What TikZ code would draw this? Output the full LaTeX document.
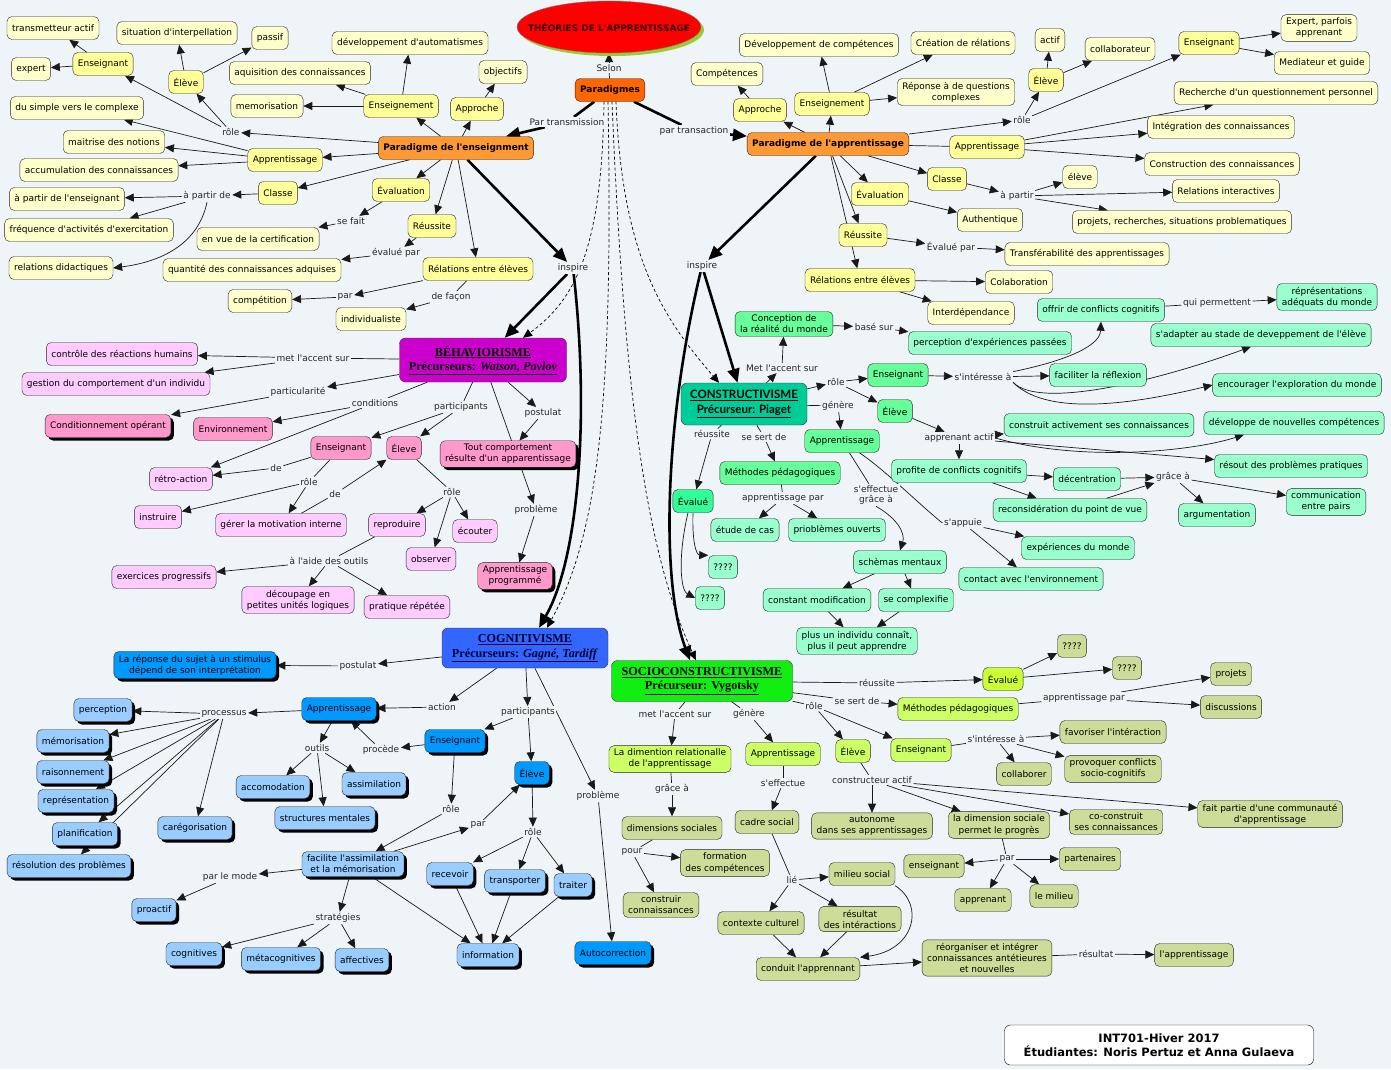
\documentclass[tikz,border=0pt]{standalone}
\usepackage{fontspec}
\setmainfont{DejaVu Sans}[Ligatures=TeXOff]
\newfontfamily\serifttl{Liberation Serif}
\newfontfamily\sansttl{Lato}
\usetikzlibrary{arrows.meta,shapes.geometric,shadows}

\definecolor{bgcol}{HTML}{EEF4F7}
\definecolor{yelmid}{HTML}{FFFF99}
\definecolor{yelpale}{HTML}{FFFFCC}
\definecolor{orng}{HTML}{FF9933}
\definecolor{orngd}{HTML}{FF6600}
\definecolor{shgreen}{HTML}{99CC33}
\definecolor{titred}{HTML}{330000}
\definecolor{purp}{HTML}{CC00CC}
\definecolor{pinkmid}{HTML}{FF99CC}
\definecolor{pinkpale}{HTML}{FFCCFF}
\definecolor{bluet}{HTML}{3366FF}
\definecolor{bluemid}{HTML}{0099FF}
\definecolor{bluepale}{HTML}{99CCFF}
\definecolor{navy}{HTML}{000033}
\definecolor{tealt}{HTML}{00CC99}
\definecolor{greenmid}{HTML}{66FF99}
\definecolor{greenpale}{HTML}{99FFCC}
\definecolor{greenev}{HTML}{33FF99}
\definecolor{socg}{HTML}{11EE11}
\definecolor{limemid}{HTML}{CCFF66}
\definecolor{limebr}{HTML}{CCFF33}
\definecolor{olivec}{HTML}{CCDD99}

\pgfdeclarelayer{bg}
\pgfdeclarelayer{edges}
\pgfsetlayers{bg,edges,main}

\tikzset{
  cbox/.style={draw=black!85, rounded corners=5pt, inner xsep=5pt, inner ysep=3.5pt,
    minimum height=23pt, align=center, text=black, font=\fontsize{9}{11}\selectfont},
  palebox/.style={cbox, fill=yelpale},
  yelbox/.style={cbox, fill=yelmid},
  orngbox/.style={cbox, fill=orng, font=\fontsize{9}{11}\selectfont\bfseries},
  parbox/.style={cbox, fill=orngd, font=\fontsize{9}{11}\selectfont\bfseries},
  pinkm/.style={cbox, fill=pinkmid},
  pinkp/.style={cbox, fill=pinkpale},
  bluem/.style={cbox, fill=bluemid},
  bluep/.style={cbox, fill=bluepale},
  greenm/.style={cbox, fill=greenmid},
  greenp/.style={cbox, fill=greenpale},
  greene/.style={cbox, fill=greenev},
  limem/.style={cbox, fill=limemid},
  limeb/.style={cbox, fill=limebr},
  olivebox/.style={cbox, fill=olivec},
  shd/.style={drop shadow={shadow xshift=3pt, shadow yshift=-3pt, opacity=1, fill=black}},
  ttlbehav/.style={draw=black!80, fill=purp, rounded corners=6pt, align=center,
    minimum width=167pt, minimum height=44pt, text=black, inner xsep=5pt,
    font=\serifttl\bfseries\fontsize{12.2}{14.5}\selectfont},
  ttlcogn/.style={ttlbehav, fill=bluet, text=navy, minimum width=166pt, minimum height=40pt},
  ttlconstr/.style={ttlbehav, fill=tealt, minimum width=126pt, minimum height=42pt,
    font=\sansttl\bfseries\fontsize{11.5}{14.5}\selectfont},
  ttlsocio/.style={ttlbehav, fill=socg, minimum width=181pt, minimum height=41pt},
  theo/.style={ellipse, draw=black!50, fill=red, minimum width=184pt, minimum height=52pt,
    drop shadow={shadow xshift=3pt, shadow yshift=-3pt, opacity=1, fill=shgreen}},
  lk/.style={fill=bgcol, inner sep=1.5pt, align=center, text=black!85,
    font=\fontsize{9}{10.5}\selectfont},
  ln/.style={draw=black!90, line width=0.7pt},
  ar/.style={ln, -{Triangle[length=9pt,width=8pt]}},
  thk/.style={draw=black, line width=2.6pt},
  thkar/.style={thk, -{Triangle[length=14pt,width=12pt]}},
  dsh/.style={draw=black, line width=0.7pt, dash pattern=on 3pt off 2.5pt,
    -{Triangle[length=9pt,width=8pt]}},
  foot/.style={draw=black, fill=white, rounded corners=6pt, align=center,
    minimum width=309pt, minimum height=40pt, font=\fontsize{11.5}{14}\selectfont\bfseries}
}

\begin{document}
\begin{tikzpicture}[x=1pt, y=-1pt]

\begin{pgfonlayer}{bg}
  \fill[bgcol] (0,0) rectangle (1391,1069);
\end{pgfonlayer}
\useasboundingbox (0,0) rectangle (1391,1069);

\node[theo] (theo) at (609,27) {};
\node[font=\fontsize{9}{11}\selectfont\bfseries, text=titred] (theotxt) at (theo) {THÉORIES DE L'APPRENTISSAGE};
\node[parbox] (parad) at (610,90) {Paradigmes};
\node[lk] (l_selon) at (609,68) {Selon};
\node[lk] (l_transm) at (567,122) {Par transmission};
\node[lk] (l_transa) at (694,131) {par transaction};
\node[lk] (l_insp1) at (573,268) {inspire};
\node[lk] (l_insp2) at (702,266) {inspire};

\node[palebox] (trans) at (53,28) {transmetteur actif};
\node[palebox] (expert) at (31,69) {expert};
\node[yelbox] (ens_l) at (103,64) {Enseignant};
\node[palebox] (sit) at (177,33) {situation d'interpellation};
\node[palebox] (passif) at (270,38) {passif};
\node[yelbox] (el_l) at (186,82) {Élève};
\node[palebox] (devauto) at (410,43) {développement d'automatismes};
\node[palebox] (aquis) at (300,73) {aquisition des connaissances};
\node[palebox] (memo) at (267,106) {memorisation};
\node[yelbox] (ensgt_l) at (401,106) {Enseignement};
\node[palebox] (obj) at (503,72) {objectifs};
\node[yelbox] (appr_l) at (477,109) {Approche};
\node[palebox] (simple) at (77,108) {du simple vers le complexe};
\node[palebox] (maitr) at (114,142) {maitrise des notions};
\node[palebox] (accum) at (99,170) {accumulation des connaissances};
\node[yelbox] (app_l) at (285,160) {Apprentissage};
\node[orngbox] (pens) at (456,148) {Paradigme de l'enseignment};
\node[yelbox] (classe_l) at (278,193) {Classe};
\node[palebox] (apens) at (67,199) {à partir de l'enseignant};
\node[palebox] (freq) at (89,230) {fréquence d'activités d'exercitation};
\node[palebox] (reldid) at (61,268) {relations didactiques};
\node[yelbox] (eval_l) at (401,190) {Évaluation};
\node[palebox] (certif) at (258,239) {en vue de la certification};
\node[yelbox] (reuss_l) at (432,226) {Réussite};
\node[palebox] (quant) at (252,270) {quantité des connaissances adquises};
\node[yelbox] (rel_l) at (478,269) {Rélations entre élèves};
\node[palebox] (compet) at (260,301) {compétition};
\node[palebox] (indiv) at (371,319) {individualiste};
\node[lk] (l_role1) at (231,132) {rôle};
\node[lk] (l_apartir1) at (207,196) {à partir de};
\node[lk] (l_sefait) at (351,221) {se fait};
\node[lk] (l_evalpar1) at (396,253) {évalué par};
\node[lk] (l_par1) at (345,297) {par};
\node[lk] (l_defacon) at (451,297) {de façon};

\node[palebox] (devcomp) at (819,45) {Développement de compétences};
\node[palebox] (creat) at (963,43) {Création de rélations};
\node[palebox] (repq) at (956,92) {Réponse à de questions\\complexes};
\node[palebox] (compet_r) at (727,74) {Compétences};
\node[yelbox] (appr_r) at (760,110) {Approche};
\node[yelbox] (ensgt_r) at (832,104) {Enseignement};
\node[palebox] (actif) at (1050,40) {actif};
\node[yelbox] (el_r) at (1046,80) {Élève};
\node[palebox] (collab) at (1120,49) {collaborateur};
\node[yelbox] (ens_r) at (1209,43) {Enseignant};
\node[palebox] (expertp) at (1319,28) {Expert, parfois\\apprenant};
\node[palebox] (mediat) at (1322,63) {Mediateur et guide};
\node[palebox] (recher) at (1276,93) {Recherche d'un questionnement personnel};
\node[palebox] (integ) at (1221,127) {Intégration des connaissances};
\node[palebox] (constrc) at (1222,164) {Construction des connaissances};
\node[orngbox] (papp) at (828,144) {Paradigme de l'apprentissage};
\node[yelbox] (app_r) at (987,147) {Apprentissage};
\node[yelbox] (classe_r) at (947,179) {Classe};
\node[palebox] (eleve_r) at (1080,177) {élève};
\node[palebox] (relint) at (1226,191) {Relations interactives};
\node[palebox] (projr) at (1182,222) {projets, recherches, situations problematiques};
\node[yelbox] (eval_r) at (880,194) {Évaluation};
\node[palebox] (authen) at (990,220) {Authentique};
\node[yelbox] (reuss_r) at (863,235) {Réussite};
\node[palebox] (transf) at (1087,254) {Transférabilité des apprentissages};
\node[yelbox] (rel_r) at (860,280) {Rélations entre élèves};
\node[palebox] (colab) at (1019,282) {Colaboration};
\node[palebox] (interd) at (971,313) {Interdépendance};
\node[lk] (l_role2) at (1022,120) {rôle};
\node[lk] (l_apartir2) at (1017,196) {à partir};
\node[lk] (l_evalpar2) at (951,247) {Évalué par};

\node[ttlbehav] (behav) at (483,360) {\underline{BÉHAVIORISME}\\\underline{Précurseurs: \textit{Watson, Pavlov}}};
\node[pinkp] (contr) at (122,354) {contrôle des réactions humains};
\node[pinkp] (gest) at (116,384) {gestion du comportement d'un individu};
\node[pinkm,shd] (condop) at (108,426) {Conditionnement opérant};
\node[pinkm] (envir) at (233,429) {Environnement};
\node[pinkp] (retro) at (181,479) {rétro-action};
\node[pinkm] (ens_b) at (341,448) {Enseignant};
\node[pinkm] (el_b) at (404,448) {Éleve};
\node[pinkp] (instr) at (158,517) {instruire};
\node[pinkp] (gerer) at (281,525) {gérer la motivation interne};
\node[pinkp] (reprod) at (397,525) {reproduire};
\node[pinkp] (ecout) at (475,531) {écouter};
\node[pinkp] (observ) at (431,559) {observer};
\node[pinkp] (exerc) at (164,577) {exercices progressifs};
\node[pinkp] (decoup) at (298,600) {découpage en\\petites unités logiques};
\node[pinkp] (prat) at (407,607) {pratique répétée};
\node[pinkm,shd] (toutc) at (508,454) {Tout comportement\\résulte d'un apparentissage};
\node[pinkm,shd] (appprog) at (515,576) {Apprentissage\\programmé};
\node[lk] (l_metac1) at (313,358) {met l'accent sur};
\node[lk] (l_partic) at (298,392) {particularité};
\node[lk] (l_cond) at (375,403) {conditions};
\node[lk] (l_partp1) at (461,407) {participants};
\node[lk] (l_de1) at (276,468) {de};
\node[lk] (l_role3) at (309,482) {rôle};
\node[lk] (l_de2) at (335,494) {de};
\node[lk] (l_role4) at (452,492) {rôle};
\node[lk] (l_aide) at (329,561) {à l'aide des outils};
\node[lk] (l_postul1) at (543,413) {postulat};
\node[lk] (l_probl1) at (536,510) {problème};

\node[ttlcogn] (cogn) at (525,648) {\underline{COGNITIVISME}\\\underline{Précurseurs: \textit{Gagné, Tardiff}}};
\node[bluem,shd] (repc) at (195,665) {La réponse du sujet à un stimulus\\dépend de son interprétation};
\node[bluem,shd] (app_c) at (339,709) {Apprentissage};
\node[bluep,shd] (percep) at (103,710) {perception};
\node[bluep,shd] (memc) at (73,741) {mémorisation};
\node[bluep,shd] (raison) at (73,772) {raisonnement};
\node[bluep,shd] (repres) at (76,801) {représentation};
\node[bluep,shd] (planif) at (85,834) {planification};
\node[bluep,shd] (resol) at (69,866) {résolution des problèmes};
\node[bluep,shd] (categ) at (195,828) {carégorisation};
\node[bluep,shd] (accom) at (273,787) {accomodation};
\node[bluep,shd] (assim) at (374,784) {assimilation};
\node[bluep,shd] (struct) at (325,818) {structures mentales};
\node[bluem,shd] (ens_c) at (455,741) {Enseignant};
\node[bluem,shd] (el_c) at (532,773) {Élève};
\node[bluep,shd] (facil) at (353,864) {facilite l'assimilation\\et la mémorisation};
\node[bluep,shd] (recev) at (450,874) {recevoir};
\node[bluep,shd] (transp) at (515,881) {transporter};
\node[bluep,shd] (trait) at (573,885) {traiter};
\node[bluep,shd] (info) at (488,955) {information};
\node[bluep,shd] (proact) at (154,910) {proactif};
\node[bluep,shd] (cognv) at (194,954) {cognitives};
\node[bluep,shd] (metac) at (281,959) {métacognitives};
\node[bluep,shd] (affect) at (362,960) {affectives};
\node[bluem,shd] (autoc) at (613,953) {Autocorrection};
\node[lk] (l_postul2) at (358,666) {postulat};
\node[lk] (l_action) at (442,707) {action};
\node[lk] (l_process) at (224,714) {processus};
\node[lk] (l_outils) at (317,748) {outils};
\node[lk] (l_procede) at (381,750) {procède};
\node[lk] (l_partp2) at (528,712) {participants};
\node[lk] (l_role5) at (451,809) {rôle};
\node[lk] (l_par2) at (478,825) {par};
\node[lk] (l_role6) at (533,832) {rôle};
\node[lk] (l_parmode) at (230,877) {par le mode};
\node[lk] (l_strat) at (338,918) {stratégies};
\node[lk] (l_probl2) at (598,796) {problème};

\node[ttlconstr] (constr) at (744,404) {\underline{CONSTRUCTIVISME}\\\underline{Précurseur: Piaget}};
\node[greenm] (concep) at (784,324) {Conception de\\la réalité du monde};
\node[greenp] (percc) at (990,343) {perception d'expériences passées};
\node[greenm] (ens_co) at (898,375) {Enseignant};
\node[greenp] (offrir) at (1101,310) {offrir de conflicts cognitifs};
\node[greenp] (repm) at (1327,297) {réprésentations\\adéquats du monde};
\node[greenp] (sadapt) at (1261,335) {s'adapter au stade de deveppement de l'élève};
\node[greenp] (facilr) at (1098,375) {faciliter la réflexion};
\node[greenp] (encour) at (1297,385) {encourager l'exploration du monde};
\node[greenm] (el_co) at (895,411) {Élève};
\node[greenm] (app_co) at (842,441) {Apprentissage};
\node[greenp] (cactiv) at (1099,425) {construit activement ses connaissances};
\node[greenp] (develop) at (1294,423) {développe de nouvelles compétences};
\node[greenp] (resout) at (1291,466) {résout des problèmes pratiques};
\node[greenp] (profite) at (959,471) {profite de conflicts cognitifs};
\node[greenp] (decent) at (1087,479) {décentration};
\node[greenp] (recons) at (1070,510) {reconsidération du point de vue};
\node[greenp] (argum) at (1217,515) {argumentation};
\node[greenp] (commun) at (1326,502) {communication\\entre pairs};
\node[greenp] (experm) at (1078,548) {expériences du monde};
\node[greenp] (contact) at (1031,579) {contact avec l'environnement};
\node[greenm] (meth_co) at (780,473) {Méthodes pédagogiques};
\node[greenp] (etude) at (745,530) {étude de cas};
\node[greenp] (priob) at (837,530) {prioblèmes ouverts};
\node[greene] (eval_co) at (693,501) {Évalué};
\node[greenp] (qa) at (723,567) {????};
\node[greenp] (qb) at (710,598) {????};
\node[greenp] (schem) at (900,562) {schèmas mentaux};
\node[greenp] (constm) at (817,600) {constant modification};
\node[greenp] (complx) at (916,600) {se complexifie};
\node[greenp] (plusun) at (857,641) {plus un individu connaît,\\plus il peut apprendre};
\node[lk] (l_metac2) at (782,368) {Met l'accent sur};
\node[lk] (l_base) at (874,327) {basé sur};
\node[lk] (l_role7) at (836,382) {rôle};
\node[lk] (l_sint1) at (983,377) {s'intéresse à};
\node[lk] (l_quip) at (1217,303) {qui permettent};
\node[lk] (l_gen1) at (838,406) {génère};
\node[lk] (l_apact) at (959,438) {apprenant actif};
\node[lk] (l_grace1) at (1173,477) {grâce à};
\node[lk] (l_seff1) at (876,495) {s'effectue\\grâce à};
\node[lk] (l_sapp) at (963,523) {s'appuie};
\node[lk] (l_reuss1) at (712,434) {réussite};
\node[lk] (l_sesert1) at (764,437) {se sert de};
\node[lk] (l_apppar1) at (783,498) {apprentissage par};

\node[ttlsocio] (socio) at (702,681) {\underline{SOCIOCONSTRUCTIVISME}\\\underline{Précurseur: Vygotsky}};
\node[limem] (dimrel) at (670,759) {La dimention relationalle\\de l'apprentissage};
\node[olivebox] (dimsoc) at (672,828) {dimensions sociales};
\node[olivebox] (format) at (725,863) {formation\\des compétences};
\node[olivebox] (constrr) at (661,905) {construir\\connaissances};
\node[limem] (app_s) at (783,754) {Apprentissage};
\node[olivebox] (cadre) at (767,822) {cadre social};
\node[olivebox] (milieu) at (862,874) {milieu social};
\node[olivebox] (context) at (761,923) {contexte culturel};
\node[olivebox] (resint) at (860,919) {résultat\\des intéractions};
\node[olivebox] (conduit) at (808,969) {conduit l'apprennant};
\node[olivebox] (reorg) at (987,958) {réorganiser et intégrer\\connaissances antétieures\\et nouvelles};
\node[olivebox] (lapp) at (1194,955) {l'apprentissage};
\node[limeb] (eval_s) at (1003,679) {Évalué};
\node[olivebox] (qc) at (1072,646) {????};
\node[olivebox] (qd) at (1127,668) {????};
\node[limem] (meth_s) at (958,709) {Méthodes pédagogiques};
\node[olivebox] (proj) at (1231,674) {projets};
\node[olivebox] (discus) at (1231,707) {discussions};
\node[limem] (el_s) at (853,751) {Élève};
\node[limem] (ens_s) at (921,750) {Enseignant};
\node[olivebox] (favor) at (1113,732) {favoriser l'intéraction};
\node[olivebox] (collabr) at (1024,774) {collaborer};
\node[olivebox] (provoq) at (1113,769) {provoquer conflicts\\socio-cognitifs};
\node[olivebox] (auton) at (872,826) {autonome\\dans ses apprentissages};
\node[olivebox] (ladim) at (999,825) {la dimension sociale\\permet le progrès};
\node[olivebox] (cocons) at (1116,822) {co-construit\\ses connaissances};
\node[olivebox] (faitp) at (1270,814) {fait partie d'une communauté\\d'apprentissage};
\node[olivebox] (ens_sl) at (934,866) {enseignant};
\node[olivebox] (parten) at (1090,859) {partenaires};
\node[olivebox] (apprnt) at (983,900) {apprenant};
\node[olivebox] (lemil) at (1054,896) {le milieu};
\node[lk] (l_metac3) at (675,714) {met l'accent sur};
\node[lk] (l_grace2) at (672,789) {grâce à};
\node[lk] (l_pour) at (632,852) {pour};
\node[lk] (l_gen2) at (749,714) {génère};
\node[lk] (l_seff2) at (783,783) {s'effectue};
\node[lk] (l_lie) at (792,880) {lié};
\node[lk] (l_resul) at (1096,954) {résultat};
\node[lk] (l_reuss2) at (877,683) {réussite};
\node[lk] (l_sesert2) at (857,701) {se sert de};
\node[lk] (l_apppar2) at (1084,698) {apprentissage par};
\node[lk] (l_role8) at (814,706) {rôle};
\node[lk] (l_sint2) at (996,739) {s'intéresse à};
\node[lk] (l_constact) at (872,780) {constructeur actif};
\node[lk] (l_par3) at (1007,859) {par};

\node[foot] (foot) at (1159,1045) {INT701-Hiver 2017\\Étudiantes: Noris Pertuz et Anna Gulaeva};

\begin{pgfonlayer}{edges}
  \draw[ln] (parad) -- (l_selon);
  \draw[ar] (l_selon) -- (theo);
  \draw[thk] (parad) -- (l_transm);
  \draw[thkar] (l_transm) -- (pens);
  \draw[thk] (parad) -- (l_transa);
  \draw[thkar] (l_transa) -- (papp);
  \draw[thkar] (pens) -- (l_insp1);
  \draw[thkar] (l_insp1) -- (behav);
  \draw[thkar] (l_insp1) .. controls (590,420) and (578,560) .. ([xshift=14]cogn.north);
  \draw[thkar] (papp) -- (l_insp2);
  \draw[thkar] (l_insp2) -- (constr);
  \draw[thkar] (l_insp2) .. controls (665,420) and (660,580) .. ([xshift=-12]socio.north);
  \draw[dsh] ([xshift=-6]parad.south) .. controls (602,250) and (575,300) .. ([xshift=40]behav.north);
  \draw[dsh] ([xshift=-2]parad.south) .. controls (614,420) and (595,540) .. ([xshift=22]cogn.north);
  \draw[dsh] ([xshift=2]parad.south) .. controls (625,420) and (650,560) .. ([xshift=-6]socio.north);
  \draw[dsh] ([xshift=6]parad.south) .. controls (622,260) and (665,320) .. ([xshift=-25]constr.north);

  \draw[ar] (pens) -- (ensgt_l);
  \draw[ar] (ensgt_l) -- (devauto);
  \draw[ar] (ensgt_l) -- (aquis);
  \draw[ar] (ensgt_l) -- (memo);
  \draw[ar] (pens) -- (appr_l);
  \draw[ar] (appr_l) -- (obj);
  \draw[ar] (pens) -- (l_role1);
  \draw[ar] (l_role1) -- (ens_l);
  \draw[ar] (l_role1) -- (el_l);
  \draw[ar] (ens_l) -- (trans);
  \draw[ar] (ens_l) -- (expert);
  \draw[ar] (el_l) -- (sit);
  \draw[ar] (el_l) -- (passif);
  \draw[ar] (pens) -- (app_l);
  \draw[ar] (app_l) -- (simple);
  \draw[ar] (app_l) -- (maitr);
  \draw[ar] (app_l) -- (accum);
  \draw[ar] (pens) -- (classe_l);
  \draw[ar] (classe_l) -- (l_apartir1);
  \draw[ar] (l_apartir1) -- (apens);
  \draw[ar] (l_apartir1) -- (freq);
  \draw[ar] (l_apartir1.south) .. controls (198,245) and (160,262) .. (reldid.east);
  \draw[ar] (pens) -- (eval_l);
  \draw[ar] (eval_l) -- (l_sefait);
  \draw[ar] (l_sefait) -- (certif);
  \draw[ar] (pens) -- (reuss_l);
  \draw[ar] (reuss_l) -- (l_evalpar1);
  \draw[ar] (l_evalpar1) -- (quant);
  \draw[ar] (pens) -- (rel_l);
  \draw[ar] (rel_l) -- (l_par1);
  \draw[ar] (l_par1) -- (compet);
  \draw[ln] (rel_l) -- (l_defacon);
  \draw[ar] (l_defacon) -- (indiv);

  \draw[ar] (papp) -- (ensgt_r);
  \draw[ar] (ensgt_r) -- (devcomp);
  \draw[ar] ([xshift=22]ensgt_r.north) -- ([xshift=22]creat.south west);
  \draw[ar] (ensgt_r) -- (repq);
  \draw[ar] (papp) -- (appr_r);
  \draw[ar] (appr_r) -- (compet_r);
  \draw[ar] (papp) -- (l_role2);
  \draw[ar] (l_role2) -- (el_r);
  \draw[ar] (l_role2) -- (ens_r);
  \draw[ar] (el_r) -- (actif);
  \draw[ar] (el_r) -- (collab);
  \draw[ar] (ens_r) -- (expertp);
  \draw[ar] (ens_r) -- (mediat);
  \draw[ln] (papp) -- (app_r);
  \draw[ar] (app_r) -- (recher);
  \draw[ar] (app_r) -- (integ);
  \draw[ar] (app_r) -- (constrc);
  \draw[ar] (papp) -- (classe_r);
  \draw[ar] (classe_r) -- (l_apartir2);
  \draw[ar] (l_apartir2) -- (eleve_r);
  \draw[ar] (l_apartir2) -- (relint);
  \draw[ar] (l_apartir2) -- (projr);
  \draw[ar] (papp) -- (eval_r);
  \draw[ar] (eval_r) -- (authen);
  \draw[ar] (papp) -- (reuss_r);
  \draw[ar] (reuss_r) -- (l_evalpar2);
  \draw[ar] (l_evalpar2) -- (transf);
  \draw[ar] (papp) -- (rel_r);
  \draw[ar] (rel_r) -- (colab);
  \draw[ar] (rel_r) -- (interd);

  \draw[ln] (behav) -- (l_metac1);
  \draw[ar] (l_metac1) -- (contr);
  \draw[ar] (l_metac1) -- (gest);
  \draw[ar] (behav) -- (l_partic);
  \draw[ar] (l_partic) -- (condop);
  \draw[ln] (behav) -- (l_cond);
  \draw[ar] (l_cond) -- (envir);
  \draw[ar] (l_cond) -- (retro);
  \draw[ln] (behav) -- (l_partp1);
  \draw[ar] (l_partp1) -- (ens_b);
  \draw[ar] (l_partp1) -- (el_b);
  \draw[ln] (ens_b) -- (l_de1);
  \draw[ar] (l_de1) -- (retro);
  \draw[ln] (ens_b) -- (l_role3);
  \draw[ar] (l_role3) -- (instr);
  \draw[ar] (l_role3) -- (gerer);
  \draw[ln] (gerer) -- (l_de2);
  \draw[ar] (l_de2) -- (el_b);
  \draw[ln] (el_b) -- (l_role4);
  \draw[ar] (l_role4) -- (reprod);
  \draw[ar] (l_role4) -- (observ);
  \draw[ar] (l_role4) -- (ecout);
  \draw[ln] (reprod) -- (l_aide);
  \draw[ar] (l_aide) -- (exerc);
  \draw[ar] (l_aide) -- (decoup);
  \draw[ar] (l_aide) -- (prat);
  \draw[ar] (behav) -- (l_postul1);
  \draw[ar] (l_postul1) -- (toutc);
  \draw[ar] (behav) -- (l_probl1);
  \draw[ar] (l_probl1) -- (appprog);

  \draw[ar] (cogn) -- (l_postul2);
  \draw[ar] (l_postul2) -- (repc);
  \draw[ar] (cogn) -- (l_action);
  \draw[ar] (l_action) -- (app_c);
  \draw[ar] (app_c) -- (l_process);
  \draw[ar] (l_process) -- (percep);
  \draw[ar] (l_process) -- (memc);
  \draw[ar] (l_process) -- (raison);
  \draw[ar] (l_process) -- (repres);
  \draw[ar] (l_process) -- (planif);
  \draw[ar] (l_process) -- (resol);
  \draw[ar] (l_process) -- (categ);
  \draw[ar] (app_c) -- (l_outils);
  \draw[ar] (l_outils) -- (accom);
  \draw[ar] (l_outils) -- (struct);
  \draw[ar] (l_outils) -- (assim);
  \draw[ar] (cogn) -- (l_partp2);
  \draw[ar] (l_partp2) -- (ens_c);
  \draw[ar] (l_partp2) -- (el_c);
  \draw[ar] (ens_c) -- (l_procede);
  \draw[ar] (l_procede) -- (app_c);
  \draw[ar] (ens_c) -- (l_role5);
  \draw[ar] (l_role5) -- (facil);
  \draw[ar] (facil) -- (l_par2);
  \draw[ar] (l_par2) -- (el_c);
  \draw[ar] (el_c) -- (l_role6);
  \draw[ar] (l_role6) -- (recev);
  \draw[ar] (l_role6) -- (transp);
  \draw[ar] (l_role6) -- (trait);
  \draw[ar] (recev) -- (info);
  \draw[ar] (transp) -- (info);
  \draw[ar] (trait) -- (info);
  \draw[ar] (facil) -- (info);
  \draw[ar] (facil) -- (l_parmode);
  \draw[ar] (l_parmode) -- (proact);
  \draw[ar] (facil) -- (l_strat);
  \draw[ar] (l_strat) -- (cognv);
  \draw[ar] (l_strat) -- (metac);
  \draw[ar] (l_strat) -- (affect);
  \draw[ar] (cogn) -- (l_probl2);
  \draw[ar] (l_probl2) -- (autoc);

  \draw[ar] (constr) -- (l_metac2);
  \draw[ar] (l_metac2) -- (concep);
  \draw[ar] (concep) -- (l_base);
  \draw[ar] (l_base) -- (percc);
  \draw[ar] (constr) -- (l_role7);
  \draw[ar] (l_role7) -- (ens_co);
  \draw[ar] (l_role7) -- (el_co);
  \draw[ar] (ens_co) -- (l_sint1);
  \draw[ar] (l_sint1.north east) .. controls (1070,360) and (1100,345) .. (offrir.south);
  \draw[ar] (l_sint1) -- (facilr);
  \draw[ar] (l_sint1.south east) .. controls (1040,410) and (1160,380) .. ([xshift=-10]sadapt.south);
  \draw[ar] (l_sint1.south east) .. controls (1050,420) and (1150,400) .. (encour.west);
  \draw[ln] (offrir) -- (l_quip);
  \draw[ar] (l_quip) -- (repm);
  \draw[ar] (el_co) -- (l_apact);
  \draw[ar] (l_apact) -- (cactiv);
  \draw[ar] (l_apact.east) .. controls (1080,462) and (1190,452) .. ([xshift=-50]develop.south);
  \draw[ar] (l_apact) -- (resout);
  \draw[ar] (l_apact) -- (profite);
  \draw[ar] (profite) -- (decent);
  \draw[ar] (profite) -- (recons);
  \draw[ar] (decent) -- (l_grace1);
  \draw[ar] (recons) -- (l_grace1);
  \draw[ar] (l_grace1) -- (argum);
  \draw[ar] (l_grace1) -- (commun);
  \draw[ln] (constr) -- (l_gen1);
  \draw[ar] (l_gen1) -- (app_co);
  \draw[ln] (app_co) -- (l_seff1);
  \draw[ar] (l_seff1.south) .. controls (900,520) and (905,535) .. (schem.north);
  \draw[ln] (app_co) .. controls (885,470) and (920,505) .. (l_sapp.west);
  \draw[ar] (l_sapp) -- (experm);
  \draw[ar] (l_sapp) -- (contact);
  \draw[ar] (schem) -- (constm);
  \draw[ar] (schem) -- (complx);
  \draw[ar] (constm) -- (plusun);
  \draw[ar] (complx) -- (plusun);
  \draw[ln] (constr) -- (l_reuss1);
  \draw[ar] (l_reuss1) -- (eval_co);
  \draw[ar] (eval_co.south) .. controls (692,540) and (696,555) .. (qa.north west);
  \draw[ar] ([xshift=-5]eval_co.south) .. controls (678,555) and (680,590) .. (qb.west);
  \draw[ln] (constr) -- (l_sesert1);
  \draw[ar] (l_sesert1) -- (meth_co);
  \draw[ln] (meth_co) -- (l_apppar1);
  \draw[ar] (l_apppar1) -- (etude);
  \draw[ar] (l_apppar1) -- (priob);

  \draw[ln] (socio) -- (l_metac3);
  \draw[ar] (l_metac3) -- (dimrel);
  \draw[ln] (dimrel) -- (l_grace2);
  \draw[ar] (l_grace2) -- (dimsoc);
  \draw[ln] (dimsoc) -- (l_pour);
  \draw[ar] (l_pour) -- (format);
  \draw[ar] (l_pour) -- (constrr);
  \draw[ln] (socio) -- (l_gen2);
  \draw[ar] (l_gen2) -- (app_s);
  \draw[ln] (app_s) -- (l_seff2);
  \draw[ar] (l_seff2) -- (cadre);
  \draw[ln] (cadre) -- (l_lie);
  \draw[ar] (l_lie) -- (milieu);
  \draw[ar] (l_lie) -- (context);
  \draw[ar] (l_lie) -- (resint);
  \draw[ar] (context) -- (conduit);
  \draw[ar] (resint) -- (conduit);
  \draw[ar] (milieu.south east) .. controls (925,905) and (915,950) .. (conduit.north east);
  \draw[ar] (conduit) -- (reorg);
  \draw[ln] (reorg) -- (l_resul);
  \draw[ar] (l_resul) -- (lapp);
  \draw[ln] (socio) -- (l_reuss2);
  \draw[ar] (l_reuss2) -- (eval_s);
  \draw[ar] (eval_s) -- (qc);
  \draw[ar] (eval_s) -- (qd);
  \draw[ln] (socio) -- (l_sesert2);
  \draw[ar] (l_sesert2) -- (meth_s);
  \draw[ln] (meth_s) -- (l_apppar2);
  \draw[ar] (l_apppar2) -- (proj);
  \draw[ar] (l_apppar2) -- (discus);
  \draw[ln] (socio) -- (l_role8);
  \draw[ar] (l_role8) -- (el_s);
  \draw[ar] (l_role8) -- (ens_s);
  \draw[ln] (ens_s) -- (l_sint2);
  \draw[ar] (l_sint2) -- (favor);
  \draw[ar] (l_sint2) -- (collabr);
  \draw[ar] (l_sint2) -- (provoq);
  \draw[ln] (el_s) -- (l_constact);
  \draw[ar] (l_constact) -- (auton);
  \draw[ar] (l_constact) -- (ladim);
  \draw[ar] (l_constact) -- (cocons);
  \draw[ar] (l_constact) -- (faitp);
  \draw[ln] (ladim) -- (l_par3);
  \draw[ar] (l_par3) -- (ens_sl);
  \draw[ar] (l_par3) -- (parten);
  \draw[ar] (l_par3) -- (apprnt);
  \draw[ar] (l_par3) -- (lemil);
\end{pgfonlayer}

\end{tikzpicture}
\end{document}
